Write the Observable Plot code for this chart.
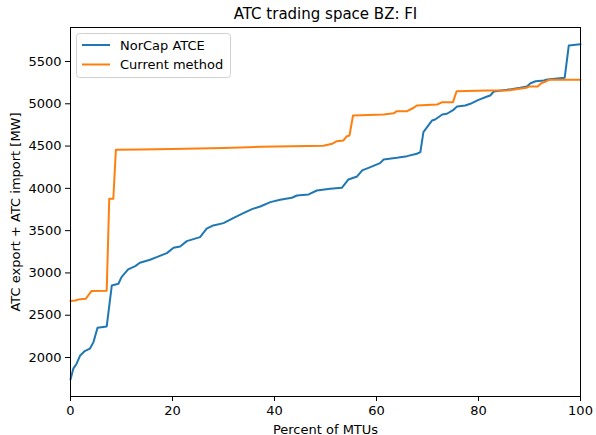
<!DOCTYPE html>
<html>
<head>
<meta charset="utf-8">
<script src="https://cdn.jsdelivr.net/npm/d3@7"></script>
<script src="https://cdn.jsdelivr.net/npm/@observablehq/plot@0.6"></script>
<style>
  html, body { margin: 0; padding: 0; background: #fff; }
  #chart { width: 596px; height: 435px; }
  svg { font-family: "DejaVu Sans", sans-serif; }
</style>
</head>
<body>
<div id="chart"></div>
<script>
const titleText = "ATC trading space BZ: FI";
const xLabel = "Percent of MTUs";
const yLabel = "ATC export + ATC import [MW]";
const seriesNames = ["NorCap ATCE", "Current method"];
const seriesColors = ["#1f77b4", "#ff7f0e"];
const xTicks = [0, 20, 40, 60, 80, 100];
const yTicks = [2000, 2500, 3000, 3500, 4000, 4500, 5000, 5500];

const norcapPct = [0, 0.55, 1.2, 1.9, 2.8, 3.8, 4.5, 5.3, 7.1, 8.1, 9.4, 10.0, 11.3, 12.7, 13.6, 15.6, 16.9, 18.9, 20.2, 21.5, 22.8, 25.4, 26.7, 28.0, 30.0, 32.0, 33.9, 35.6, 37.2, 39.2, 41.1, 43.4, 44.4, 46.7, 48.3, 50.9, 53.2, 54.5, 56.2, 57.2, 58.8, 60.7, 61.4, 64.0, 66.0, 67.9, 68.6, 69.2, 70.9, 71.5, 72.9, 73.8, 75.1, 75.8, 77.4, 78.4, 80.0, 81.7, 82.3, 83.0, 85.6, 88.2, 89.5, 90.2, 91.2, 92.8, 93.5, 96.9, 97.7, 99.5, 100];
const norcapMW = [1740, 1868, 1927, 2025, 2076, 2104, 2182, 2352, 2368, 2852, 2872, 2950, 3041, 3081, 3120, 3156, 3187, 3234, 3298, 3313, 3376, 3423, 3523, 3562, 3589, 3652, 3707, 3755, 3786, 3837, 3865, 3889, 3916, 3928, 3975, 3995, 4007, 4105, 4141, 4212, 4251, 4298, 4342, 4362, 4381, 4409, 4428, 4664, 4803, 4814, 4874, 4882, 4929, 4968, 4980, 5000, 5047, 5086, 5098, 5145, 5165, 5189, 5204, 5243, 5267, 5275, 5287, 5307, 5689, 5701, 5703];

const currentPct = [0, 0.9, 1.9, 3.0, 4.1, 7.1, 7.6, 8.4, 8.9, 13.6, 20, 30, 37.2, 49.6, 51.3, 52.2, 53.5, 54.2, 54.7, 55.4, 61.4, 63.4, 64.0, 66.0, 67.3, 67.9, 71.9, 72.9, 75.0, 75.7, 81.7, 85.6, 89.4, 89.9, 91.6, 92.3, 93.3, 93.8, 100];
const currentMW = [2667, 2675, 2690, 2695, 2785, 2790, 3877, 3877, 4456, 4460, 4466, 4476, 4492, 4505, 4527, 4558, 4566, 4617, 4625, 4862, 4874, 4889, 4913, 4913, 4953, 4980, 4992, 5019, 5019, 5149, 5157, 5157, 5189, 5204, 5204, 5243, 5267, 5284, 5284];

const norcap = norcapPct.map((p, i) => ({pct: p, mw: norcapMW[i]}));
const current = currentPct.map((p, i) => ({pct: p, mw: currentMW[i]}));

const fontSize = 13;
const chart = Plot.plot({
  width: 596,
  height: 435,
  marginTop: 27,
  marginRight: 16,
  marginBottom: 39,
  marginLeft: 70,
  style: {fontFamily: "DejaVu Sans, sans-serif", fontSize: fontSize + "px", background: "white", color: "black"},
  x: {domain: [0, 100]},
  y: {domain: [1539, 5902]},
  marks: [
    Plot.line(norcap, {x: "pct", y: "mw", stroke: seriesColors[0], strokeWidth: 2, strokeLinejoin: "round"}),
    Plot.line(current, {x: "pct", y: "mw", stroke: seriesColors[1], strokeWidth: 2, strokeLinejoin: "round"}),
    Plot.frame({stroke: "black", strokeWidth: 1}),
    Plot.axisX({ticks: xTicks, tickFormat: d => String(d), tickSize: 5, tickPadding: 4, fontSize: fontSize, label: xLabel, labelAnchor: "center", labelArrow: "none", labelOffset: 37}),
    Plot.axisY({ticks: yTicks, tickFormat: d => String(d), tickSize: 5, tickPadding: 4, fontSize: fontSize, label: yLabel, labelAnchor: "center", labelArrow: "none", labelOffset: 60}),
    Plot.text([titleText], {frameAnchor: "top", dy: -19, fontSize: 15, fill: "black"})
  ]
});

const svg = d3.select(chart);
const lg = svg.append("g").attr("class", "legend").attr("text-anchor", "start");
lg.append("rect").attr("x", 76.5).attr("y", 33.5).attr("width", 154).attr("height", 44)
  .attr("rx", 3).attr("fill", "white").attr("fill-opacity", 0.8).attr("stroke", "#d0d0d0");
seriesNames.forEach((name, i) => {
  const yy = 45 + i * 19.5;
  lg.append("line").attr("x1", 82).attr("x2", 110).attr("y1", yy).attr("y2", yy)
    .attr("stroke", seriesColors[i]).attr("stroke-width", 2);
  lg.append("text").attr("x", 120).attr("y", yy).attr("dy", "0.35em")
    .attr("text-anchor", "start")
    .attr("font-size", fontSize).attr("fill", "black").text(name);
});

document.getElementById("chart").appendChild(chart);
</script>
</body>
</html>
